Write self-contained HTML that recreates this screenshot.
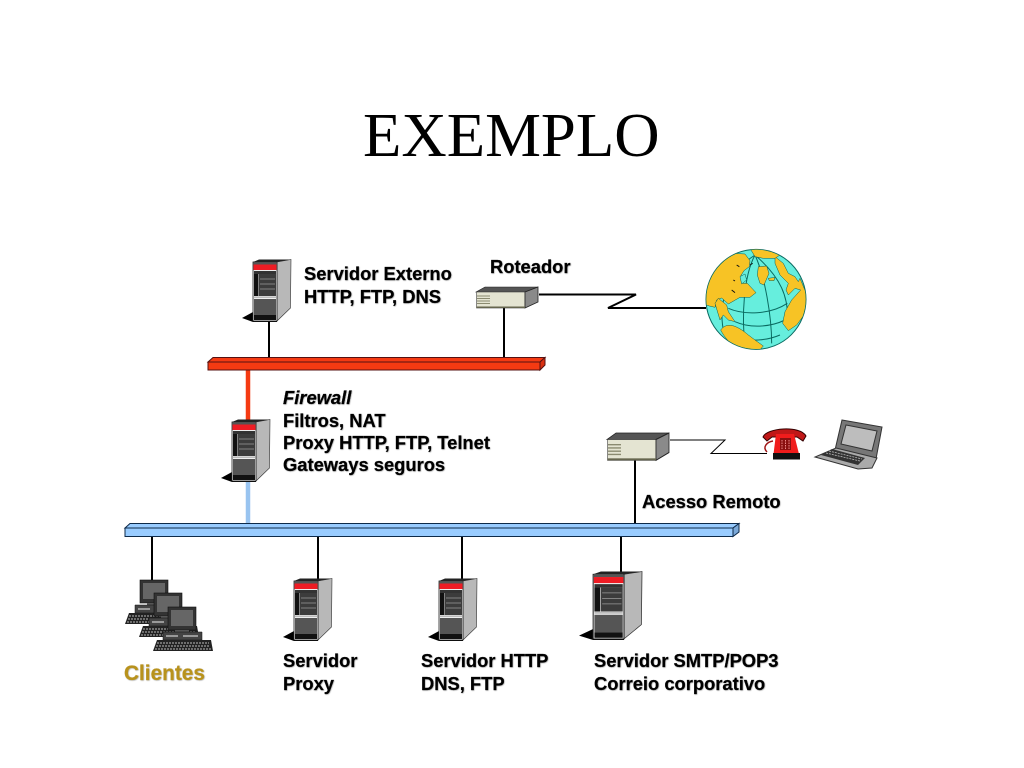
<!DOCTYPE html>
<html><head><meta charset="utf-8"><style>
html,body{margin:0;padding:0;background:#fff;width:1024px;height:768px;overflow:hidden}
svg{display:block}
.t{font-family:"Liberation Sans",Arial,sans-serif;font-weight:bold;font-size:18.35px;fill:#000;stroke:#000;stroke-width:.2;filter:url(#sh)}
.g{fill:#b8921c;stroke:#b8921c;font-size:20.8px}
</style></head><body>
<svg width="1024" height="768" viewBox="0 0 1024 768" xmlns="http://www.w3.org/2000/svg">
<defs>
<filter id="sh" x="-5%" y="-20%" width="110%" height="140%"><feOffset dx=".7" dy=".7" in="SourceAlpha" result="o"/><feGaussianBlur in="o" stdDeviation=".6" result="b"/><feComponentTransfer in="b" result="c"><feFuncA type="linear" slope=".4"/></feComponentTransfer><feMerge><feMergeNode in="c"/><feMergeNode in="SourceGraphic"/></feMerge></filter>
<g id="server">
<polygon points="0,59 11,53 35,53 35,63 11,63" fill="#000"/>
<polygon points="35,3 49,0.5 48.5,49 35,62" fill="#b8b8b8" stroke="#333" stroke-width=".6"/>
<polygon points="11,3 17,0.5 49,0.5 35,3" fill="#222"/>
<rect x="11" y="3" width="24" height="59" fill="#eee" stroke="#222" stroke-width=".8"/>
<rect x="11.5" y="5.500" width="23" height="5.500" fill="#ee1c24"/>
<rect x="11.5" y="3.5" width="23" height="2" fill="#555"/>
<rect x="12" y="12" width="22" height="3" fill="#333"/>
<rect x="12" y="15" width="4.5" height="22" fill="#111"/>
<rect x="17" y="15" width="17" height="22" fill="#3c3c3c"/>
<path d="M18 20h15M18 25h15M18 30h15" stroke="#999" stroke-width=".7"/>
<rect x="12" y="37.5" width="22" height="1.5" fill="#bbb"/>
<rect x="12" y="40" width="22" height="16" fill="#555"/>
<rect x="12" y="56" width="22" height="5" fill="#111"/>
</g>
<g id="router">
<polygon points="0,5 9,0 62,0 49,5" fill="#555" stroke="#222" stroke-width=".6"/>
<rect x="0.5" y="5" width="48.5" height="16" fill="#e4e4d2" stroke="#444" stroke-width=".6"/>
<polygon points="49,5 62,0 62,15 49,21" fill="#8a8a8a" stroke="#222" stroke-width=".8"/>
<path d="M1 9h13M1 11.500h13M1 14h13M1 16.500h13" stroke="#8a8a70" stroke-width="1"/>
<rect x="0.500" y="19.500" width="48.500" height="1.500" fill="#66664f"/>
</g>
<g id="pc">
<rect x="15" y="0" width="28" height="23" fill="#333" stroke="#111" stroke-width=".6"/>
<rect x="18" y="3" width="22" height="16" fill="#666"/>
<polygon points="22,23 36,23 36,25 22,25" fill="#555"/>
<polygon points="10,25 49,25 49,33 10,33" fill="#444" stroke="#111" stroke-width=".5"/>
<path d="M13 29h12M30 29h15" stroke="#ccc" stroke-width="1.200"/>
<polygon points="4,33 58,33 60,44 0,44" fill="#222"/>
<path d="M4 36h52M3 39h54M2 42h56" stroke="#bbb" stroke-width="1" stroke-dasharray="2 1"/>
</g>
</defs>
<rect width="1024" height="768" fill="#fff"/>
<text x="363" y="156" font-family="'Liberation Serif','Times New Roman',serif" font-size="62.800" fill="#000">EXEMPLO</text>

<g fill="none" stroke="#000">
<path d="M269 320V358M504 307V358M152 536V581M318 536V579M462 536V579M621 536V572M635 460V523" stroke-width="2"/>
<path d="M539 294.500H636L608 308H706" stroke-width="2"/>
<path d="M670 440H725L711 453.500H767" stroke-width="1"/>
</g>
<path d="M248 370V420" stroke="#f53a12" stroke-width="4.500"/>
<path d="M248 481V523" stroke="#99c4f0" stroke-width="4.500"/>

<g stroke="#511" stroke-width="1">
<polygon points="213,357.500 545,357.500 540,362 208,362" fill="#f53a12"/>
<rect x="208" y="362" width="332" height="8" fill="#f53a12"/>
<polygon points="540,362 545,357.500 545,365 540,370" fill="#d93010"/>
</g>
<g stroke="#0d2a4a" stroke-width="1">
<polygon points="130,523.500 739,523.500 733,528 125,528" fill="#99ccff"/>
<rect x="125" y="528" width="608" height="8.500" fill="#99ccff"/>
<polygon points="733,528 739,523.500 739,532 733,536.500" fill="#7aa8d8"/>
</g>

<use href="#server" transform="translate(242,259)"/>
<use href="#server" transform="translate(221,419)"/>
<use href="#server" transform="translate(283,578)"/>
<use href="#server" transform="translate(428,578)"/>
<use href="#server" transform="translate(579,571) scale(1.286,1.095)"/>
<use href="#router" transform="translate(476,287)"/>
<use href="#router" transform="translate(607,433) scale(1,1.300)"/>
<use href="#pc" transform="translate(125,580)"/>
<use href="#pc" transform="translate(139,593)"/>
<use href="#pc" transform="translate(153,607)"/>

<!-- globe -->
<g transform="translate(700,240) scale(.3333)">
<circle cx="168" cy="178" r="150" fill="#66eedd" stroke="#0a6a60" stroke-width="3"/>
<clipPath id="gc"><circle cx="168" cy="178" r="149"/></clipPath>
<g clip-path="url(#gc)" fill="none" stroke="#0a6a60" stroke-width="3">
<path d="M85 205C130 225 210 225 262 190"/>
<path d="M105 245C150 265 210 262 255 240"/>
<path d="M130 295C160 305 205 300 240 285"/>
<path d="M165 45C130 110 125 230 135 320"/>
<path d="M165 45C195 110 215 230 215 310"/>
<path d="M165 45C240 110 270 170 262 260"/>
<path d="M165 45C80 100 55 190 70 270"/>
</g>
<g clip-path="url(#gc)" fill="#f7c325" stroke="#0a5a50" stroke-width="1.500">
<path d="M5 190L15 120L50 80L100 40L135 42L150 62L148 80L132 92L122 108L126 130L142 130L168 158L150 172L120 172L85 192L65 174L50 180L45 202L28 198Z"/>
<path d="M45 190L55 175L80 195L85 215L105 245L85 240L70 225L60 240Z"/>
<path d="M62 270C80 245 110 255 145 285L165 300L190 318L175 335L150 335C120 330 85 315 62 270Z"/>
<path d="M175 80L200 78L207 100L192 135L180 130L172 105Z"/>
<path d="M225 50L250 70L265 100L285 110L295 125L300 115L325 175L316 220L290 255L265 272L248 250L255 215L275 180L302 150L285 145L265 165L258 150L265 130L240 105L225 70Z"/>
<path d="M150 25L200 22L240 45L225 55L190 55L165 50Z"/>
<path d="M120 110L135 102L140 120L125 132Z" fill="#66eedd"/>
<path d="M205 115L225 112L222 122L208 122Z"/>
</g>
<path d="M95 150l10 8M100 120l5 3M110 75l8 5M150 75l8 -5" stroke="#111" stroke-width="3" fill="none"/>
</g>

<!-- phone -->
<g>
<path d="M763 437C766 428 800 425 806 436L803 441L797 437H772L767 441Z" fill="#c01818" stroke="#300" stroke-width="1"/>
<path d="M767 452C762 447 767 442 773 441" fill="none" stroke="#a01515" stroke-width="1.500"/>
<polygon points="776,434 794,434 800,458 773,458" fill="#f01c1c"/>
<rect x="780" y="438" width="11" height="12" fill="#8a1010"/>
<path d="M782 440v9M785.500 440v9M789 440v9" stroke="#e88" stroke-width="1" stroke-dasharray="1.500 1"/>
<rect x="773" y="453" width="27" height="6.500" fill="#111"/>
</g>

<!-- laptop -->
<g>
<polygon points="842,420 882,427 876,459 835,450" fill="#777" stroke="#333" stroke-width="1"/>
<polygon points="846,425 877,431 872,451 841,444" fill="#bdbdbd" stroke="#333" stroke-width="1"/>
<polygon points="836,448 877,458 872,468 858,469 815,457" fill="#aaa" stroke="#333" stroke-width="1"/>
<polygon points="832,449 865,458 858,465 821,455" fill="#333"/>
<path d="M826 453L860 461M829 451L862 459" stroke="#bbb" stroke-width=".8" stroke-dasharray="2 1"/>
</g>

<text class="t" x="304" y="280">Servidor Externo</text>
<text class="t" x="304" y="303">HTTP, FTP, DNS</text>
<text class="t" x="490" y="273">Roteador</text>
<text class="t" x="283" y="404" font-style="italic">Firewall</text>
<text class="t" x="283" y="427">Filtros, NAT</text>
<text class="t" x="283" y="449">Proxy HTTP, FTP, Telnet</text>
<text class="t" x="283" y="471">Gateways seguros</text>
<text class="t" x="642" y="508">Acesso Remoto</text>
<text class="t g" x="124" y="680">Clientes</text>
<text class="t" x="283" y="667">Servidor</text>
<text class="t" x="283" y="690">Proxy</text>
<text class="t" x="421" y="667">Servidor HTTP</text>
<text class="t" x="421" y="690">DNS, FTP</text>
<text class="t" x="594" y="667">Servidor SMTP/POP3</text>
<text class="t" x="594" y="690">Correio corporativo</text>
</svg>
</body></html>
